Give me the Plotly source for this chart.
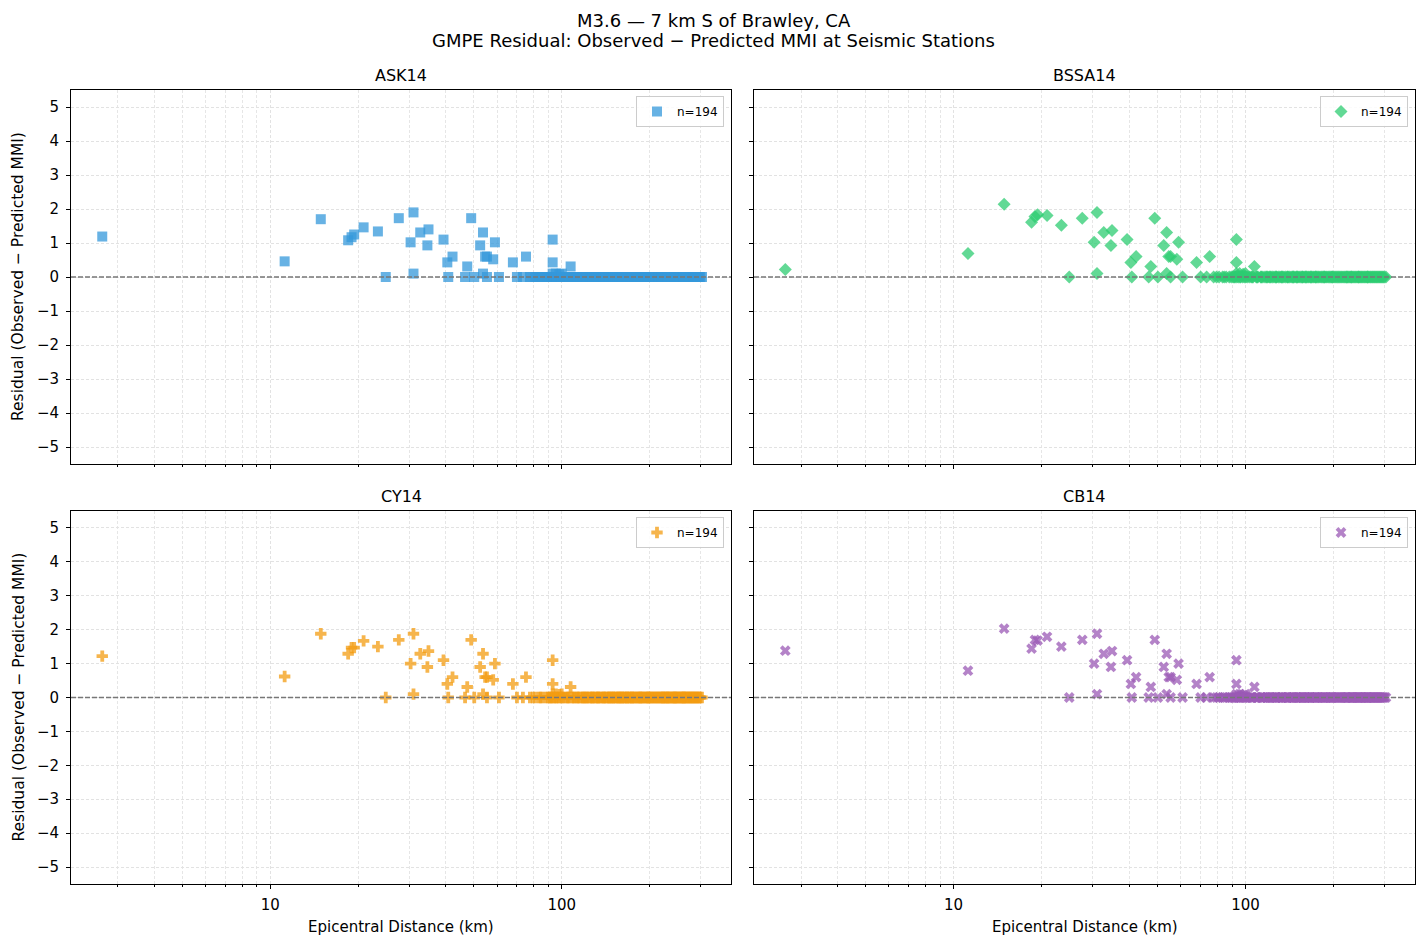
import plotly.graph_objects as go

W, H = 1427, 947

models = ["ASK14", "BSSA14", "CY14", "CB14"]
colors = ["#3498db", "#2ecc71", "#f39c12", "#9b59b6"]
symbols = ["square", "diamond", "cross", "x"]
sizes = [10, 10, 9.5, 9.5]

# near-field stations (distance km)
near_dist = [2.65, 11.2, 14.9, 18.5, 19.0, 19.4, 20.9, 23.4, 24.9, 27.6,
             31.0, 30.3, 32.7, 34.9, 34.6, 31.0, 39.3, 40.5, 42.2, 40.8,
             48.9, 47.4, 46.6, 50.1, 53.7, 52.5, 54.6, 55.4, 53.7, 55.4,
             59.0, 58.2, 60.9, 68.0, 75.4, 70.2, 73.6, 79.6, 93.1, 93.1,
             93.1, 100.0, 107.3, 95.5, 98.2]

ask_near = [1.19, 0.46, 1.70, 1.08, 1.17, 1.25, 1.46, 1.34, 0.0, 1.73,
            1.90, 1.02, 1.31, 1.40, 0.93, 0.10, 1.10, 0.43, 0.60, 0.0,
            1.73, 0.31, 0.0, 0.0, 1.31, 0.93, 0.60, 0.60, 0.10, 0.0,
            1.02, 0.52, 0.0, 0.43, 0.60, 0.0, 0.0, 0.0, 1.10, 0.43,
            0.10, 0.10, 0.31, 0.10, 0.08]
bssa_near = [0.22, 0.69, 2.14, 1.61, 1.78, 1.83, 1.81, 1.52, 0.0, 1.73,
             1.90, 1.02, 1.31, 1.37, 0.93, 0.10, 1.10, 0.43, 0.60, 0.0,
             1.73, 0.31, 0.0, 0.0, 1.31, 0.93, 0.60, 0.60, 0.10, 0.0,
             1.02, 0.52, 0.0, 0.43, 0.60, 0.0, 0.0, 0.0, 1.10, 0.43,
             0.10, 0.10, 0.31, 0.10, 0.08]
cy_near = [1.22, 0.62, 1.88, 1.29, 1.47, 1.47, 1.67, 1.50, 0.0, 1.70,
           1.88, 1.00, 1.29, 1.37, 0.90, 0.10, 1.10, 0.40, 0.60, 0.0,
           1.70, 0.31, 0.0, 0.0, 1.29, 0.90, 0.60, 0.60, 0.10, 0.0,
           1.00, 0.52, 0.0, 0.40, 0.60, 0.0, 0.0, 0.0, 1.10, 0.40,
           0.10, 0.10, 0.31, 0.10, 0.08]
cb_near = [1.38, 0.79, 2.03, 1.44, 1.70, 1.68, 1.79, 1.50, 0.0, 1.70,
           1.88, 1.00, 1.29, 1.37, 0.90, 0.10, 1.10, 0.40, 0.60, 0.0,
           1.70, 0.31, 0.0, 0.0, 1.29, 0.90, 0.60, 0.60, 0.10, 0.0,
           1.00, 0.52, 0.0, 0.40, 0.60, 0.0, 0.0, 0.0, 1.10, 0.40,
           0.10, 0.10, 0.31, 0.10, 0.08]

# far-field stations (distance km), residual read as 0 for every model
far_dist = [77.8, 81.2, 83.5, 85.9, 88.0, 89.4, 90.7, 92.2, 94.5, 96.3,
            97.8, 99.1, 101.4, 103.0, 104.6, 106.2, 108.9, 110.3, 112.7, 114.1,
            115.8, 117.5, 119.2, 120.6, 122.4, 123.9, 125.3, 126.8, 128.1, 129.7,
            131.2, 132.6, 134.0, 135.5, 137.1, 138.8, 140.2, 141.7, 143.3, 144.9,
            146.2, 147.8, 149.5, 151.0, 152.6, 154.1, 155.9, 157.3, 158.8, 160.4,
            162.0, 163.7, 165.1, 166.9, 168.4, 170.2, 171.8, 173.5, 175.0, 176.8,
            178.3, 180.1, 181.9, 183.4, 185.2, 187.0, 188.7, 190.3, 192.2, 194.0,
            195.8, 197.5, 199.3, 201.2, 203.0, 204.8, 206.7, 208.5, 210.4, 212.3,
            214.1, 216.0, 218.0, 219.9, 221.8, 223.7, 225.6, 227.6, 229.5, 231.5,
            233.4, 235.4, 237.3, 239.3, 241.2, 243.2, 245.2, 247.1, 249.1, 251.0,
            253.0, 255.1, 257.0, 259.0, 261.1, 263.0, 265.0, 267.2, 269.1, 271.3,
            273.2, 275.4, 277.3, 279.5, 281.6, 283.5, 285.8, 288.0, 290.1, 292.4,
            294.7, 297.0, 299.4, 303.0, 91.5, 93.4, 95.7, 100.2, 105.5, 109.6,
            113.4, 118.3, 121.5, 127.4, 133.3, 139.5, 145.6, 150.2, 156.6, 161.2,
            167.7, 174.2, 186.1, 198.4, 222.7, 244.2, 262.0, 84.6, 230.5]
far_resid = [0.0, 0.0, 0.0, 0.0, 0.0, 0.0, 0.0, 0.0, 0.0, 0.0, 0.0, 0.0, 0.0, 0.0, 0.0, 0.0, 0.0, 0.0, 0.0, 0.0, 0.0,
             0.0, 0.0, 0.0, 0.0, 0.0, 0.0, 0.0, 0.0, 0.0, 0.0, 0.0, 0.0, 0.0, 0.0, 0.0, 0.0, 0.0, 0.0, 0.0, 0.0, 0.0,
             0.0, 0.0, 0.0, 0.0, 0.0, 0.0, 0.0, 0.0, 0.0, 0.0, 0.0, 0.0, 0.0, 0.0, 0.0, 0.0, 0.0, 0.0, 0.0, 0.0, 0.0,
             0.0, 0.0, 0.0, 0.0, 0.0, 0.0, 0.0, 0.0, 0.0, 0.0, 0.0, 0.0, 0.0, 0.0, 0.0, 0.0, 0.0, 0.0, 0.0, 0.0, 0.0,
             0.0, 0.0, 0.0, 0.0, 0.0, 0.0, 0.0, 0.0, 0.0, 0.0, 0.0, 0.0, 0.0, 0.0, 0.0, 0.0, 0.0, 0.0, 0.0, 0.0, 0.0,
             0.0, 0.0, 0.0, 0.0, 0.0, 0.0, 0.0, 0.0, 0.0, 0.0, 0.0, 0.0, 0.0, 0.0, 0.0, 0.0, 0.0, 0.0, 0.0, 0.0, 0.0,
             0.0, 0.0, 0.0, 0.0, 0.0, 0.0, 0.0, 0.0, 0.0, 0.0, 0.0, 0.0, 0.0, 0.0, 0.0, 0.0, 0.0, 0.0, 0.0, 0.0, 0.0,
             0.0, 0.0]

y_ticks = [-5, -4, -3, -2, -1, 0, 1, 2, 3, 4, 5]
y_ticktext = ["\u22125", "\u22124", "\u22123", "\u22122", "\u22121", "0", "1", "2", "3", "4", "5"]
x_ticks = [10, 100]
x_ticktext = ["10", "100"]
x_minor = [3, 4, 5, 6, 7, 8, 9, 20, 30, 40, 50, 60, 70, 80, 90, 200, 300]

dist_all = near_dist + far_dist
resids = [ask_near + far_resid, bssa_near + far_resid, cy_near + far_resid, cb_near + far_resid]

FONT = "DejaVu Sans"

def px(x):
    return x / W

def py(y):
    return 1 - y / H

# panel pixel boxes: (left, right, top, bottom)
boxes = [(71, 731, 90, 464), (754, 1415, 90, 464), (71, 731, 511, 884), (754, 1415, 511, 884)]

fig = go.Figure()
layout = dict(
    width=W, height=H, margin=dict(l=0, r=0, t=0, b=0),
    paper_bgcolor="white", plot_bgcolor="white",
    font=dict(family=FONT, size=15, color="black"),
    showlegend=True,
)
shapes = []
annotations = []

for i, name in enumerate(models):
    l, r, t, b = boxes[i]
    sfx = "" if i == 0 else str(i + 1)
    xa, ya = "x" + sfx, "y" + sfx
    leg = "legend" + sfx
    fig.add_trace(go.Scatter(
        x=dist_all, y=resids[i], mode="markers", name="n=%d" % len(dist_all),
        xaxis=xa, yaxis=ya, legend=leg,
        marker=dict(symbol=symbols[i], size=sizes[i], color=colors[i], opacity=0.75, line=dict(width=0)),
    ))
    bottom_row = i >= 2
    left_col = i % 2 == 0
    layout["xaxis" + sfx] = dict(
        type="log", domain=[px(l), px(r)], anchor=ya, range=[0.316, 2.581],
        tickvals=x_ticks, ticktext=x_ticktext if bottom_row else ["", ""],
        showticklabels=bottom_row, ticklabelstandoff=3,
        ticks="outside", ticklen=4, tickwidth=1, tickcolor="black",
        showline=True, linecolor="black", linewidth=1, mirror=True,
        showgrid=True, gridcolor="#e2e2e2", gridwidth=0.8, griddash="3px,2px",
        zeroline=False, tickfont=dict(size=15),
        minor=dict(tickvals=x_minor, ticks="outside", ticklen=2, tickwidth=0.8, tickcolor="black",
                   showgrid=True, gridcolor="#e6e6e6", gridwidth=0.6, griddash="3px,2px"),
    )
    layout["yaxis" + sfx] = dict(
        domain=[py(b), py(t)], anchor=xa, range=[-5.5, 5.5],
        tickvals=y_ticks, ticktext=y_ticktext, showticklabels=left_col, ticklabelstandoff=4,
        ticks="outside", ticklen=4, tickwidth=1, tickcolor="black",
        showline=True, linecolor="black", linewidth=1, mirror=True,
        showgrid=True, gridcolor="#e2e2e2", gridwidth=0.8, griddash="3px,2px",
        zeroline=False, tickfont=dict(size=15),
    )
    layout[leg] = dict(
        x=px(r - 7), y=py(t + 6), xanchor="right", yanchor="top",
        bgcolor="rgba(255,255,255,0.85)", bordercolor="#cccccc", borderwidth=1,
        font=dict(family=FONT, size=12), itemwidth=30,
    )
    shapes.append(dict(type="line", xref=xa + " domain", yref=ya, x0=0, x1=1, y0=0, y1=0,
                       line=dict(color="#777777", width=1.3, dash="5px,2px"), layer="above"))
    annotations.append(dict(text=name, x=px((l + r) / 2), y=py(t - 15), xref="paper", yref="paper",
                            xanchor="center", yanchor="middle", showarrow=False,
                            font=dict(family=FONT, size=16, color="black")))
    if bottom_row:
        annotations.append(dict(text="Epicentral Distance (km)", x=px((l + r) / 2), y=py(927),
                                xref="paper", yref="paper", xanchor="center", yanchor="middle",
                                showarrow=False, font=dict(family=FONT, size=15, color="black")))
    if left_col:
        annotations.append(dict(text="Residual (Observed \u2212 Predicted MMI)", x=px(18), y=py((t + b) / 2),
                                xref="paper", yref="paper", xanchor="center", yanchor="middle",
                                textangle=-90, showarrow=False,
                                font=dict(family=FONT, size=15.5, color="black")))

annotations.append(dict(text="M3.6 \u2014 7 km S of Brawley, CA", x=0.5, y=py(20), xref="paper", yref="paper",
                        xanchor="center", yanchor="middle", showarrow=False,
                        font=dict(family=FONT, size=18, color="black")))
annotations.append(dict(text="GMPE Residual: Observed \u2212 Predicted MMI at Seismic Stations", x=0.5, y=py(41),
                        xref="paper", yref="paper", xanchor="center", yanchor="middle", showarrow=False,
                        font=dict(family=FONT, size=18, color="black")))

layout["shapes"] = shapes
layout["annotations"] = annotations
fig.update_layout(**layout)
fig.write_html("out.html")
